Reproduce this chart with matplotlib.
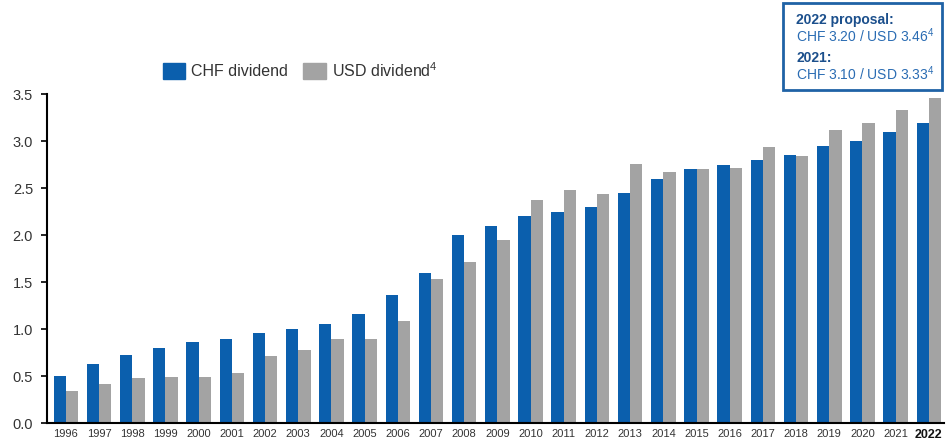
import matplotlib
matplotlib.use("Agg")
import matplotlib.pyplot as plt
from matplotlib.patches import Rectangle
import numpy as np

plt.rcParams['font.family'] = ['Liberation Sans', 'DejaVu Sans']
plt.rcParams['mathtext.fontset'] = 'custom'
plt.rcParams['mathtext.rm'] = 'Liberation Sans'
plt.rcParams['mathtext.it'] = 'Liberation Sans:italic'
plt.rcParams['mathtext.bf'] = 'Liberation Sans:bold'

years = [str(y) for y in range(1996, 2023)]
chf_dividend = [0.50, 0.63, 0.73, 0.80, 0.86, 0.90, 0.96, 1.00, 1.06, 1.16,
                1.36, 1.60, 2.00, 2.10, 2.20, 2.25, 2.30, 2.45, 2.60, 2.70,
                2.75, 2.80, 2.85, 2.95, 3.00, 3.10, 3.20]
usd_dividend = [0.34, 0.42, 0.48, 0.49, 0.49, 0.53, 0.71, 0.78, 0.90, 0.89,
                1.09, 1.53, 1.71, 1.95, 2.37, 2.48, 2.44, 2.76, 2.67, 2.70,
                2.72, 2.94, 2.84, 3.12, 3.20, 3.33, 3.46]
y_ticks = [0.0, 0.5, 1.0, 1.5, 2.0, 2.5, 3.0, 3.5]

BLUE = '#0b5fad'
GREY = '#a3a3a3'
BOX_BLUE = '#1f62a6'
TEXT_DARK = '#333333'

fig = plt.figure(figsize=(9.47, 4.43), dpi=100)
ax = fig.add_axes([0.0496, 0.045, 0.947, 0.742])

x = np.arange(len(years))
w = 0.37
ax.bar(x - w / 2, chf_dividend, width=w, color=BLUE, linewidth=0)
ax.bar(x + w / 2, usd_dividend, width=w, color=GREY, linewidth=0)

ax.set_xlim(-0.57, len(years) - 1 + 0.45)
ax.set_ylim(0, 3.5)
ax.set_yticks(y_ticks)
ax.set_yticklabels([f"{v:.1f}" for v in y_ticks], fontsize=10.5, color=TEXT_DARK)
ax.set_xticks(x)
ax.set_xticklabels(years, fontsize=8, color=TEXT_DARK)
for lbl in ax.get_xticklabels():
    if lbl.get_text() == '2022':
        lbl.set_fontweight('bold')
        lbl.set_fontsize(9)
        lbl.set_color('#111111')
ax.tick_params(axis='x', length=0, pad=4)
ax.tick_params(axis='y', length=4, width=1.2, direction='out', pad=6)

for side in ('top', 'right'):
    ax.spines[side].set_visible(False)
ax.spines['left'].set_linewidth(1.5)
ax.spines['bottom'].set_linewidth(1.5)


# Helpers for placing items in figure pixel coordinates
def fx(px):
    return px / 947.0


def fy(py):
    return 1 - py / 443.0


# Legend
fig.patches.append(Rectangle((fx(163), fy(79)), fx(22), 16 / 443.0,
                             transform=fig.transFigure, color=BLUE))
fig.text(fx(191), fy(71), "CHF dividend", fontsize=11.5, color=TEXT_DARK,
         va='center', ha='left')
fig.patches.append(Rectangle((fx(303), fy(79)), fx(23), 16 / 443.0,
                             transform=fig.transFigure, color=GREY))
fig.text(fx(332), fy(71), r"USD dividend$^{4}$", fontsize=11.5, color=TEXT_DARK,
         va='center', ha='left')

# Info box with current and prior year dividends
fig.patches.append(Rectangle((fx(783), fy(90)), fx(159), 87 / 443.0,
                             transform=fig.transFigure, fill=False,
                             edgecolor=BOX_BLUE, linewidth=2))
fig.text(fx(796), fy(20), "2022 proposal:", fontsize=10, fontweight='bold',
         color='#1b4f8c', va='center', ha='left')
fig.text(fx(796), fy(36), r"CHF 3.20 / USD 3.46$^{4}$", fontsize=10,
         color='#2a6cb3', va='center', ha='left')
fig.text(fx(796), fy(58), "2021:", fontsize=10, fontweight='bold',
         color='#1b4f8c', va='center', ha='left')
fig.text(fx(796), fy(74), r"CHF 3.10 / USD 3.33$^{4}$", fontsize=10,
         color='#2a6cb3', va='center', ha='left')

fig.savefig("out.png", dpi=100)
